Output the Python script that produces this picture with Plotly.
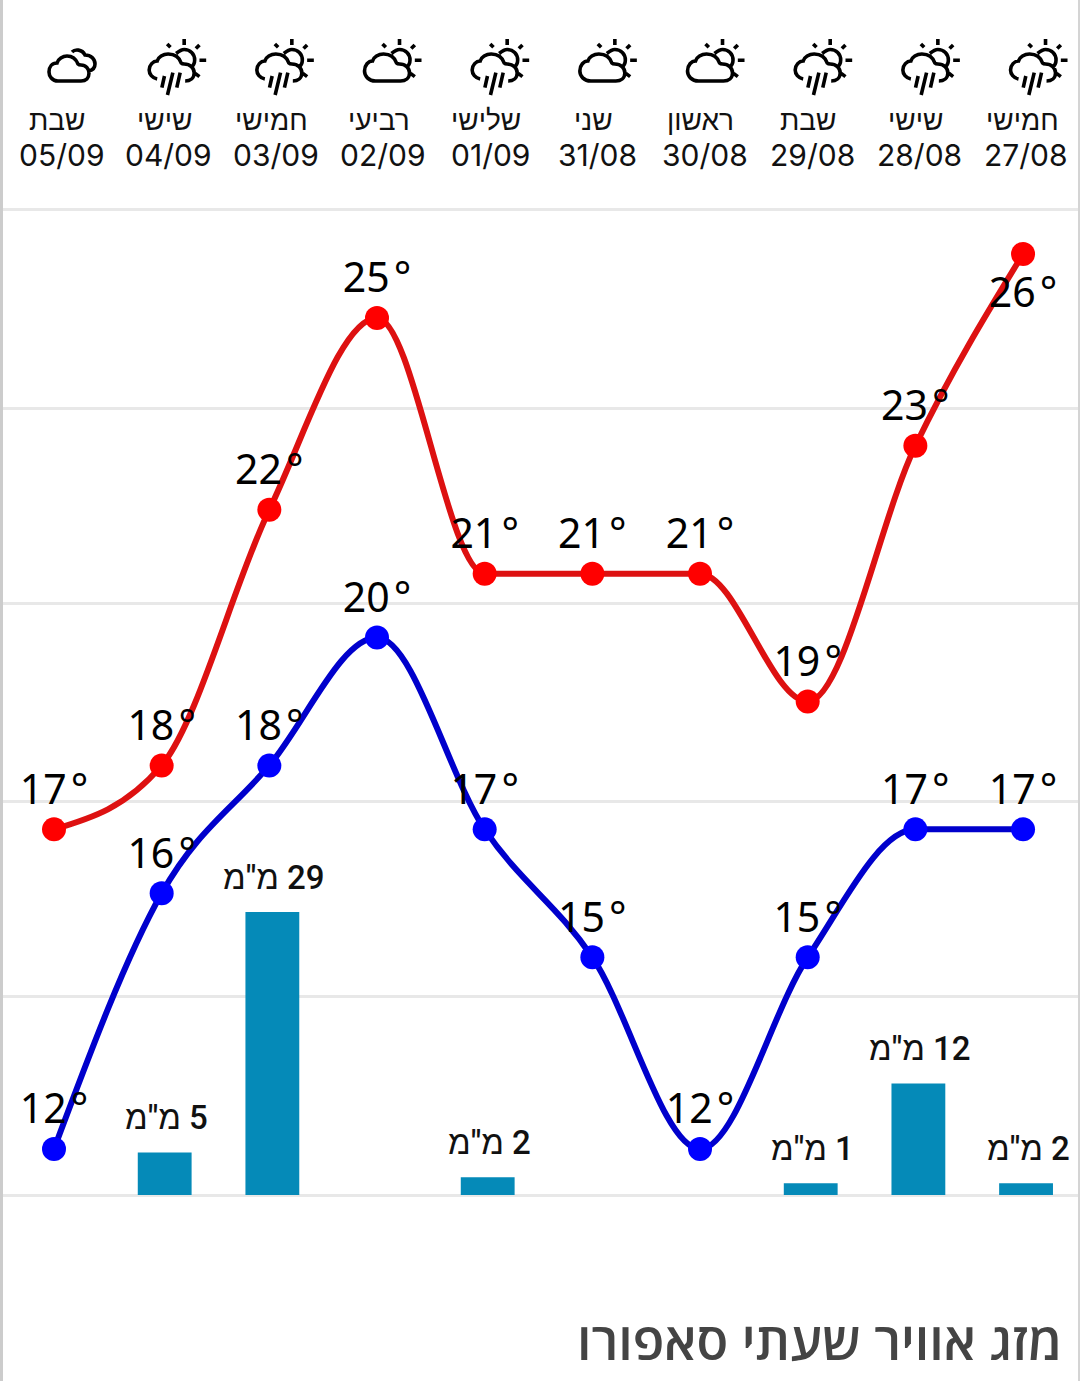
import re
import plotly.graph_objects as go

W, H = 1080, 1381

# chart runs right to left: first column is the last day
dates = ['05/09', '04/09', '03/09', '02/09', '01/09', '31/08', '30/08', '29/08', '28/08', '27/08']
days = ['שבת', 'שישי', 'חמישי', 'רביעי', 'שלישי', 'שני', 'ראשון', 'שבת', 'שישי', 'חמישי']
icons = ['clouds', 'rain', 'rain', 'sun', 'rain', 'sun', 'sun', 'rain', 'rain', 'rain']

temp_high = [17, 18, 22, 25, 21, 21, 21, 19, 23, 26]
temp_low = [12, 16, 18, 20, 17, 15, 12, 15, 17, 17]

# bar heights, labels as printed above the bars
rain_mm = [None, 4.3, 28.7, None, 1.8, None, None, 1.2, 11.3, 1.2]
rain_labels = [None, 5, 29, None, 2, None, None, 1, 12, 2]

# grid lines are not on whole degrees
grid_vals = [11.28, 14.38, 17.43, 20.53, 23.58, 26.70]

title_text = 'מזג אוויר שעתי סאפורו'

# ---- icon outlines, in pixels around the sun centre
SUN = ('M0,-21 L0,-15 M11.7,-11.4 L15.3,-15 M15.3,0.3 L22,0.3 M11,13.3 L15.3,16.6 '
       'M-17,-16 L-13.7,-12.7 '
       'M-8,-6.5 C-5,-9 -3,-10.5 0,-10.5 C6,-10.5 10.5,-6 10.5,0 C10.5,3 9,6 6.5,8 ')
CLOUD = ('M-24,21 C-31,21 -35,16 -35,11 C-35,5 -31,1 -27,1 C-26,-3 -21,-6 -16,-6 '
         'C-10,-6 -5,-3 -3,3 C-2,4 -1,4 0,4 C6,4 10,8 10,13 C10,18 6,21 1,21 Z ')
RAIN_CLOUD = ('M-27,19 C-32,18 -35,14 -35,10 C-35,5 -31,1 -27,1 C-26,-3 -21,-6 -16,-6 '
              'C-10,-6 -5,-3 -3,3 C-2,4 -1,4 0,4 C6,4 10,8 10,13 C10,18 6,21 1,21 '
              'M-19.7,16 L-22.3,27.6 M-11.3,12.6 L-16.7,35 M-4,12.6 L-7.4,27.6 ')
FRONT_BACK = ('M-45,21 C-51,21 -54,16 -54,12 C-54,7 -51,3 -46,3 C-45,-1 -40,-4 -36,-4 '
              'C-31,-4 -27,-1 -25,4 C-24,5 -23,5 -22,5 C-17,5 -14,9 -14,13 C-14,18 -17,21 -22,21 Z '
              'M-31,-8 C-28,-11 -21,-11 -18,-5 C-12,-5 -8,-1 -8,4 C-8,7 -10,10 -14,11 ')
ICON_PATHS = {'sun': SUN + CLOUD, 'rain': SUN + RAIN_CLOUD, 'clouds': FRONT_BACK}


def to_paper(path, cx, cy):
    def conv(m):
        x, y = float(m.group(1)), float(m.group(2))
        return f"{(cx + x) / W:.5f},{1 - (cy + y) / H:.5f}"
    return re.sub(r'(-?[\d.]+),(-?[\d.]+)', conv, path)


def monotone_path(values):
    # same curve as d3 curveMonotoneX: flat at peaks and between equal values
    n = len(values)
    sec = [values[i + 1] - values[i] for i in range(n - 1)]
    t = [0.0] * n
    for i in range(1, n - 1):
        s0, s1 = sec[i - 1], sec[i]
        sign = (1 if s0 >= 0 else -1) + (1 if s1 >= 0 else -1)
        t[i] = sign * min(abs(s0), abs(s1), 0.25 * abs(s0 + s1))
    t[0] = (3 * sec[0] - t[1]) / 2
    t[-1] = (3 * sec[-1] - t[-2]) / 2
    path = f'M0,{values[0]}'
    for i in range(n - 1):
        path += (f' C{i + 1 / 3:.4f},{values[i] + t[i] / 3:.4f}'
                 f' {i + 2 / 3:.4f},{values[i + 1] - t[i + 1] / 3:.4f}'
                 f' {i + 1},{values[i + 1]}')
    return path


# pixel layout of the plot area, a little past the outer grid lines so they get drawn
y_top, y_bottom, y_base = 205, 1198, 1195
domain = [1 - y_bottom / H, 1 - y_top / H]

fig = go.Figure()

fig.add_trace(go.Bar(
    x=dates, y=rain_mm, yaxis='y2',
    width=0.5, offset=-0.222,
    marker=dict(color='#058ab8', line=dict(width=0)),
))

# the clear marker only pushes the temperature labels away from the point
for temps in [temp_high, temp_low]:
    fig.add_trace(go.Scatter(
        x=dates, y=temps, mode='markers+text',
        text=[f'{t}\u200a°' for t in temps],
        textposition=['bottom center' if t == 26 else 'top center' for t in temps],
        textfont=dict(family='Noto Sans', size=41, color='black'),
        marker=dict(size=[34 if t == 26 else 23 for t in temps], opacity=0),
        cliponaxis=False,
    ))

for temps, dot_col in [(temp_high, '#ff0000'), (temp_low, '#0000ff')]:
    fig.add_trace(go.Scatter(
        x=dates, y=temps, mode='markers',
        marker=dict(color=dot_col, size=24),
        cliponaxis=False,
    ))

for i, (d, day) in enumerate(zip(dates, days)):
    fig.add_annotation(x=d, y=1 - 120 / H, yref='paper', xshift=3 - 0.35 * i, text=day, showarrow=False,
                       xanchor='center', yanchor='middle',
                       font=dict(family='Inter, Liberation Sans', size=28, color='#111111'))
    fig.add_annotation(x=d, y=1 - 155 / H, yref='paper', xshift=7.5 - 0.45 * i, text=d, showarrow=False,
                       xanchor='center', yanchor='middle',
                       font=dict(family='Inter', size=30, color='#111111'))

for d, val, lab in zip(dates, rain_mm, rain_labels):
    if lab is None:
        continue
    fig.add_annotation(x=d, y=val, yref='y2', xshift=5, yshift=35, text=f'מ"מ\u200e {lab}', showarrow=False,
                       xanchor='center', yanchor='middle',
                       font=dict(family='Roboto, Liberation Sans', size=33, color='#111111', weight=500))

shapes = []
# temperature curves, on the data axes
for temps, line_col in [(temp_high, '#dd1111'), (temp_low, '#0000cc')]:
    shapes.append(dict(type='path', xref='x', yref='y', layer='between',
                       path=monotone_path(temps), line=dict(color=line_col, width=6)))
for i, icon in enumerate(icons):
    cx = 103 if icon == 'clouds' else 54 + 107.67 * i + 22.5
    shapes.append(dict(type='path', xref='paper', yref='paper', layer='above',
                       path=to_paper(ICON_PATHS[icon], cx, 60),
                       line=dict(color='black', width=3.6)))
# grey page edges of the screenshot
shapes.append(dict(type='rect', xref='paper', yref='paper', x0=0, x1=3 / W, y0=0, y1=1,
                   fillcolor='#cccccc', line=dict(width=0), layer='above'))
shapes.append(dict(type='rect', xref='paper', yref='paper', x0=1078 / W, x1=1, y0=0, y1=1,
                   fillcolor='#d4d4d4', line=dict(width=0), layer='above'))

# 9.86 px per mm and 63.93 px per degree
rain_range = [(y_base - y_bottom) / 9.86, (y_base - y_top) / 9.86]
temp_range = [26 - (y_bottom - 254) / 63.93, 26 - (y_top - 254) / 63.93]

fig.update_layout(
    width=W, height=H,
    margin=dict(l=0, r=0, t=0, b=0),
    paper_bgcolor='white', plot_bgcolor='white',
    showlegend=False,
    shapes=shapes,
    title=dict(text=title_text, x=1062 / W, xanchor='right', y=1 - 1342 / H, yanchor='middle',
               font=dict(family='Open Sans', size=52, color='#444444', weight=600)),
    xaxis=dict(type='category', categoryorder='array', categoryarray=dates,
               range=[-0.5015, 9.529], visible=False),
    yaxis=dict(domain=domain, range=temp_range, tickmode='array', tickvals=grid_vals,
               showgrid=True, gridcolor='#e8e8e8', gridwidth=3, zeroline=False,
               showticklabels=False, ticks='', showline=False),
    yaxis2=dict(domain=domain, overlaying='y', side='right', range=rain_range,
                visible=False),
)

# default page margin would push the figure 8px in
fig.write_html("out.html", config={'displayModeBar': False},
               post_script="document.body.style.margin='0';")
